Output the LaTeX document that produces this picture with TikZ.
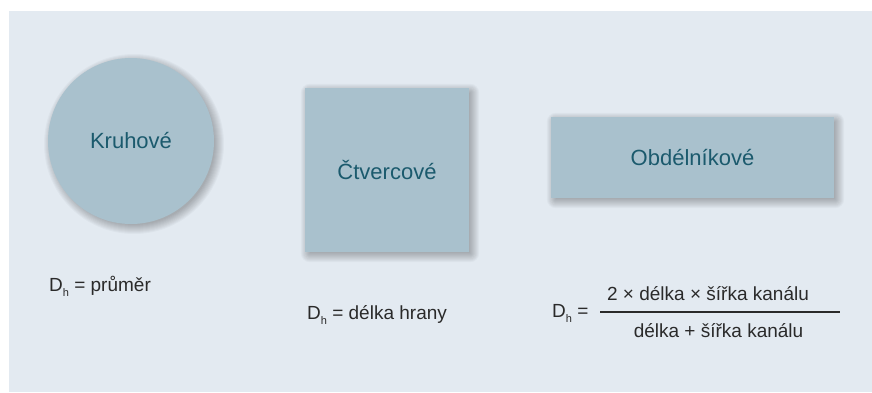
\documentclass[tikz,border=0pt]{standalone}
\usepackage{fontspec}
\setmainfont{Liberation Sans}
\usetikzlibrary{backgrounds}
\definecolor{panelbg}{HTML}{E3EAF1}
\definecolor{shapefill}{HTML}{A9C1CD}
\definecolor{shapetext}{HTML}{1B5A6D}
\definecolor{labeltext}{HTML}{2A2A2A}
% hydraulic diameter symbol with lowered subscript
\newcommand\Dhsym{D\raisebox{-5pt}{\fontsize{11}{11}\selectfont h}}
\tikzset{
  ductshape/.style={fill=shapefill, draw=none, inner sep=0pt,
    text=shapetext, font=\fontsize{22}{26}\selectfont},
  softshadow/.style={fill=black, fill opacity=0.028, draw=none},
  formula/.style={inner sep=0pt, text=labeltext,
    font=\fontsize{19}{22}\selectfont},
}
\begin{document}
\begin{tikzpicture}[x=1pt, y=-1pt]
  \useasboundingbox (0,0) rectangle (872,392);

  % duct cross-sections
  \node[ductshape, circle, minimum size=166pt] (round) at (131,141) {Kruhové};
  \node[ductshape, rectangle, minimum width=164pt, minimum height=164pt] (square) at (387,170) {Čtvercové};
  \node[ductshape, rectangle, minimum width=283pt, minimum height=81pt] (rect) at (692.5,157.5) {Obdélníkové};

  % panel and soft drop shadows behind the shapes
  \begin{pgfonlayer}{background}
    \fill[white] (0,0) rectangle (872,392);
    \fill[panelbg] (9,11) rectangle (872,392);
    \foreach \s in {-2,...,7} {
      \fill[softshadow] ([shift={(3,3)}]round.center) circle[radius=83pt+\s pt];
      \fill[softshadow, rounded corners=\s pt+2pt]
        ([shift={(3-\s,3-\s)}]square.north west) rectangle ([shift={(3+\s,3+\s)}]square.south east);
      \fill[softshadow, rounded corners=\s pt+2pt]
        ([shift={(3-\s,3-\s)}]rect.north west) rectangle ([shift={(3+\s,3+\s)}]rect.south east);
    }
  \end{pgfonlayer}

  % hydraulic diameter formulas
  \node[formula, anchor=base west] (fround) at (49,291) {\Dhsym{} = průměr};
  \node[formula, anchor=base west] (fsquare) at (307,319) {\Dhsym{} = délka hrany};
  \node[formula, anchor=base west] (frect) at (552,317) {\Dhsym{} =};
  \node[formula, anchor=base] (num) at (708,300) {2 × délka × šířka kanálu};
  \node[formula, anchor=base] (den) at (718.5,337) {délka + šířka kanálu};
  \coordinate (fracL) at (600,312);
  \coordinate (fracR) at (840,312);
  \draw[labeltext, line width=1.1pt] (fracL) -- (fracR);
\end{tikzpicture}
\end{document}
